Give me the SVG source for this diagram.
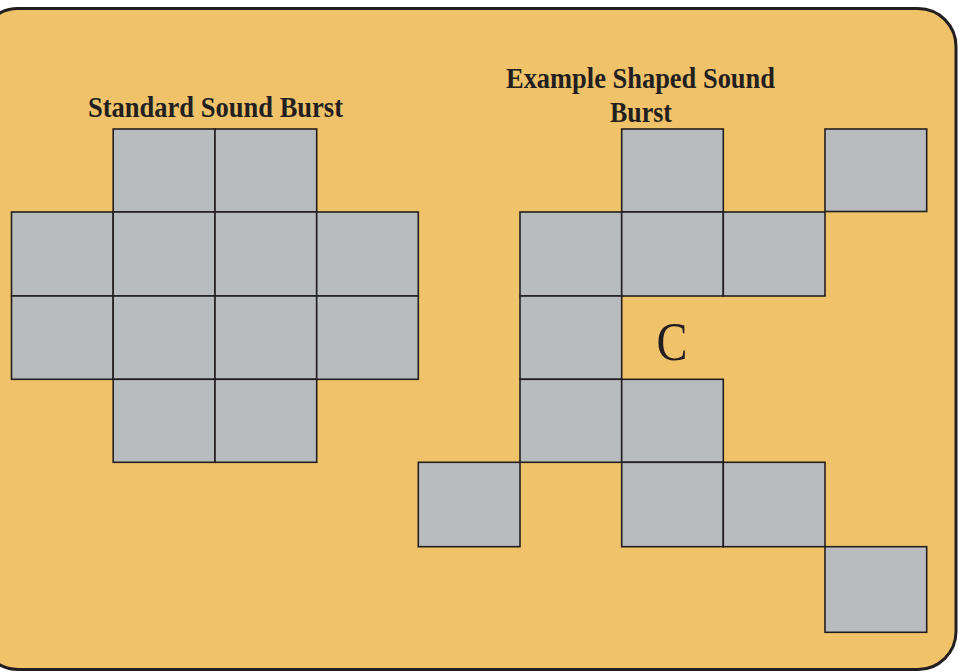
<svg xmlns="http://www.w3.org/2000/svg" width="958" height="672" viewBox="0 0 958 672">
<style>
.bg{fill:#F0C36A;stroke:#231F20;stroke-width:3}
.cell{fill:#B8BCBF;stroke:#231F20;stroke-width:1.6}
.title{font-family:"Liberation Serif",serif;font-weight:bold;font-size:29px;fill:#231F20;text-anchor:middle}
.lbl{font-family:"Liberation Serif",serif;font-size:54px;fill:#231F20;text-anchor:middle}
</style>
<rect class="bg" x="-20" y="8.5" width="976" height="661" rx="38" ry="38"/>
<g id="standard-burst">
<text class="title" x="215.5" y="117" textLength="255" lengthAdjust="spacingAndGlyphs">Standard Sound Burst</text>
<rect class="cell" x="113.2" y="129" width="101.8" height="83"/>
<rect class="cell" x="215" y="129" width="101.7" height="83"/>
<rect class="cell" x="11.5" y="212" width="101.7" height="84"/>
<rect class="cell" x="113.2" y="212" width="101.8" height="84"/>
<rect class="cell" x="215" y="212" width="101.7" height="84"/>
<rect class="cell" x="316.7" y="212" width="101.6" height="84"/>
<rect class="cell" x="11.5" y="296" width="101.7" height="83.3"/>
<rect class="cell" x="113.2" y="296" width="101.8" height="83.3"/>
<rect class="cell" x="215" y="296" width="101.7" height="83.3"/>
<rect class="cell" x="316.7" y="296" width="101.6" height="83.3"/>
<rect class="cell" x="113.2" y="379.3" width="101.8" height="83"/>
<rect class="cell" x="215" y="379.3" width="101.7" height="83"/>
</g>
<g id="shaped-burst">
<text class="title" x="640.5" y="88" textLength="269" lengthAdjust="spacingAndGlyphs">Example Shaped Sound</text>
<text class="title" x="641" y="122" textLength="62" lengthAdjust="spacingAndGlyphs">Burst</text>
<rect class="cell" x="621.7" y="129" width="101.6" height="83"/>
<rect class="cell" x="825" y="129" width="101.7" height="82.5"/>
<rect class="cell" x="520" y="212" width="101.7" height="84"/>
<rect class="cell" x="621.7" y="212" width="101.6" height="84"/>
<rect class="cell" x="723.3" y="212" width="101.7" height="84"/>
<rect class="cell" x="520" y="296" width="101.7" height="83.3"/>
<rect class="cell" x="520" y="379.3" width="101.7" height="83"/>
<rect class="cell" x="621.7" y="379.3" width="101.6" height="83"/>
<rect class="cell" x="418.3" y="462.3" width="101.7" height="84.4"/>
<rect class="cell" x="621.7" y="462.3" width="101.6" height="84.4"/>
<rect class="cell" x="723.3" y="462.3" width="101.7" height="84.4"/>
<rect class="cell" x="825" y="546.7" width="101.7" height="85.6"/>
<text class="lbl" x="672" y="360" textLength="31" lengthAdjust="spacingAndGlyphs">C</text>
</g>
</svg>
